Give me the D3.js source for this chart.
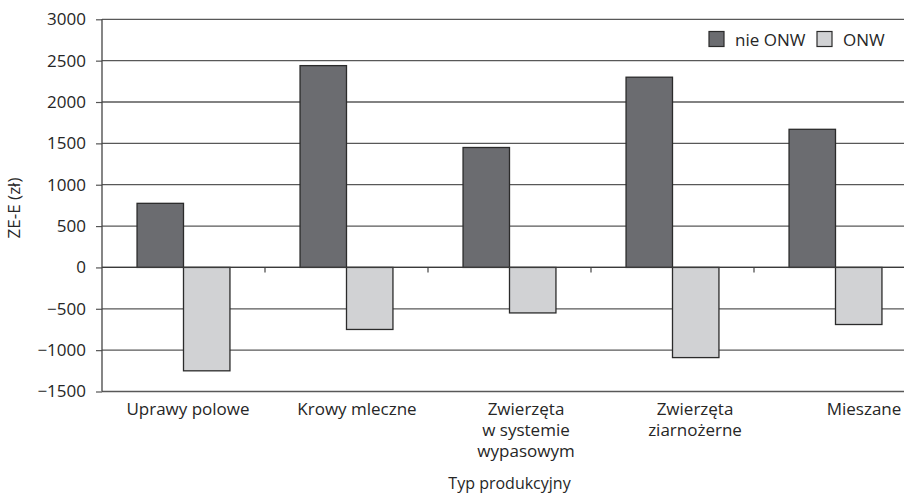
<!DOCTYPE html>
<html>
<head>
<meta charset="utf-8">
<script src="https://cdn.jsdelivr.net/npm/d3@7"></script>
<style>
  body { margin: 0; background: #fff; }
  svg { display: block; }
  svg text { font-family: "Open Sans", sans-serif; }
</style>
</head>
<body>
<div id="viz"></div>
<script>
// data
let categories = ["Uprawy polowe", "Krowy mleczne", "Zwierzęta\nw systemie\nwypasowym", "Zwierzęta\nziarnożerne", "Mieszane"]
let series = ["nie ONW", "ONW"]
let nieOnw = [775, 2440, 1450, 2300, 1670]
let onw = [-1250, -750, -550, -1090, -690]
let yTicks = [-1500, -1000, -500, 0, 500, 1000, 1500, 2000, 2500, 3000]

let colors = { "nie ONW": "#6b6c70", "ONW": "#d1d2d4" }

let W = 904, H = 495
let margin = { left: 102, top: 19.3 }
let plotW = 815
let plotH = 372.2

let svg = d3.select("#viz")
  .append("svg")
    .attr("width", W)
    .attr("height", H)
  .append("g")
    .attr("transform", "translate(" + margin.left + "," + margin.top + ")")

let rows = categories.map((c, i) => ({ cat: c, "nie ONW": nieOnw[i], "ONW": onw[i] }))

// scales
let xScale = d3.scaleBand()
    .domain(categories)
    .range([0, plotW])
    .paddingInner(0.43)
    .paddingOuter(0.215)

let xSub = d3.scaleBand()
    .domain(series)
    .range([0, xScale.bandwidth()])

let yScale = d3.scaleLinear()
    .domain([-1500, 3000])
    .range([plotH, 0])

// label positions (labels sit a bit to the right of the bars in the original)
let labelScale = d3.scalePoint()
    .domain(categories)
    .range([86, 762])

// grid + y axis
let yAxis = d3.axisLeft(yScale)
    .tickValues(yTicks)
    .tickSize(6)
    .tickPadding(10)
    .tickFormat(d => d < 0 ? "\u2212" + Math.abs(d) : String(d))

let yG = svg.append("g").attr("id", "y-axis").call(yAxis)
yG.select(".domain").remove()
yG.attr("font-family", null)
yG.selectAll(".tick line").attr("stroke", "#555").attr("stroke-width", 1.2)
yG.selectAll(".tick text")
    .attr("font-size", 17)
    .attr("fill", "#262626")

svg.append("g")
  .selectAll("line")
  .data(yTicks)
  .join("line")
    .attr("x1", 0)
    .attr("x2", plotW)
    .attr("y1", d => yScale(d))
    .attr("y2", d => yScale(d))
    .attr("stroke", "#585858")
    .attr("stroke-width", 1.3)

// bars
let groups = svg.append("g")
  .selectAll("g")
  .data(rows)
  .join("g")
    .attr("transform", d => "translate(" + xScale(d.cat) + ",0)")

groups.selectAll("rect")
  .data(d => series.map(s => ({ key: s, value: d[s] })))
  .join("rect")
    .attr("x", d => xSub(d.key))
    .attr("width", xSub.bandwidth())
    .attr("y", d => yScale(Math.max(0, d.value)))
    .attr("height", d => Math.abs(yScale(d.value) - yScale(0)))
    .attr("fill", d => colors[d.key])
    .attr("stroke", "#2b2b2b")
    .attr("stroke-width", 1.3)

// zero line with category ticks
let y0 = yScale(0)
svg.append("line")
    .attr("x1", 0).attr("x2", plotW)
    .attr("y1", y0).attr("y2", y0)
    .attr("stroke", "#3a3a3a")
    .attr("stroke-width", 1.3)

let step = xScale.step()
svg.append("g")
  .selectAll("line")
  .data(categories.slice(1))
  .join("line")
    .attr("x1", d => xScale(d) - xScale.paddingInner() * step / 2)
    .attr("x2", d => xScale(d) - xScale.paddingInner() * step / 2)
    .attr("y1", y0)
    .attr("y2", y0 + 5)
    .attr("stroke", "#444")
    .attr("stroke-width", 1.2)

// y axis line
svg.append("line")
    .attr("x1", 0).attr("x2", 0)
    .attr("y1", 0).attr("y2", plotH)
    .attr("stroke", "#444")
    .attr("stroke-width", 1.3)

// category labels
let labels = svg.append("g")
  .selectAll("text")
  .data(categories)
  .join("text")
    .attr("x", d => labelScale(d))
    .attr("y", plotH + 23.5)
    .attr("text-anchor", "middle")
    .attr("font-size", 17)
    .attr("fill", "#262626")

labels.selectAll("tspan")
  .data(d => d.split("\n").map(t => ({ t, x: labelScale(d) })))
  .join("tspan")
    .attr("x", d => d.x)
    .attr("dy", (d, i) => i == 0 ? 0 : 20.8)
    .text(d => d.t)

// axis titles
svg.append("text")
    .attr("x", plotW / 2)
    .attr("y", 489 - margin.top)
    .attr("text-anchor", "middle")
    .attr("font-size", 16)
    .attr("fill", "#262626")
    .text("Typ produkcyjny")

svg.append("text")
    .attr("transform", "translate(" + (20 - margin.left) + "," + (208 - margin.top) + ") rotate(-90)")
    .attr("text-anchor", "middle")
    .attr("font-size", 17)
    .attr("fill", "#262626")
    .text("ZE-E (zł)")

// legend
let legend = svg.append("g")
    .attr("transform", "translate(" + (709 - margin.left) + "," + (31.5 - margin.top) + ")")

let legItems = legend.selectAll("g")
  .data(series)
  .join("g")
    .attr("transform", (d, i) => "translate(" + (i * 108) + ",0)")

legItems.append("rect")
    .attr("width", 15)
    .attr("height", 15)
    .attr("fill", d => colors[d])
    .attr("stroke", "#2b2b2b")
    .attr("stroke-width", 1.2)

legItems.append("text")
    .attr("x", 26)
    .attr("y", 14)
    .attr("font-size", 17)
    .attr("fill", "#262626")
    .text(d => d)
</script>
</body>
</html>
